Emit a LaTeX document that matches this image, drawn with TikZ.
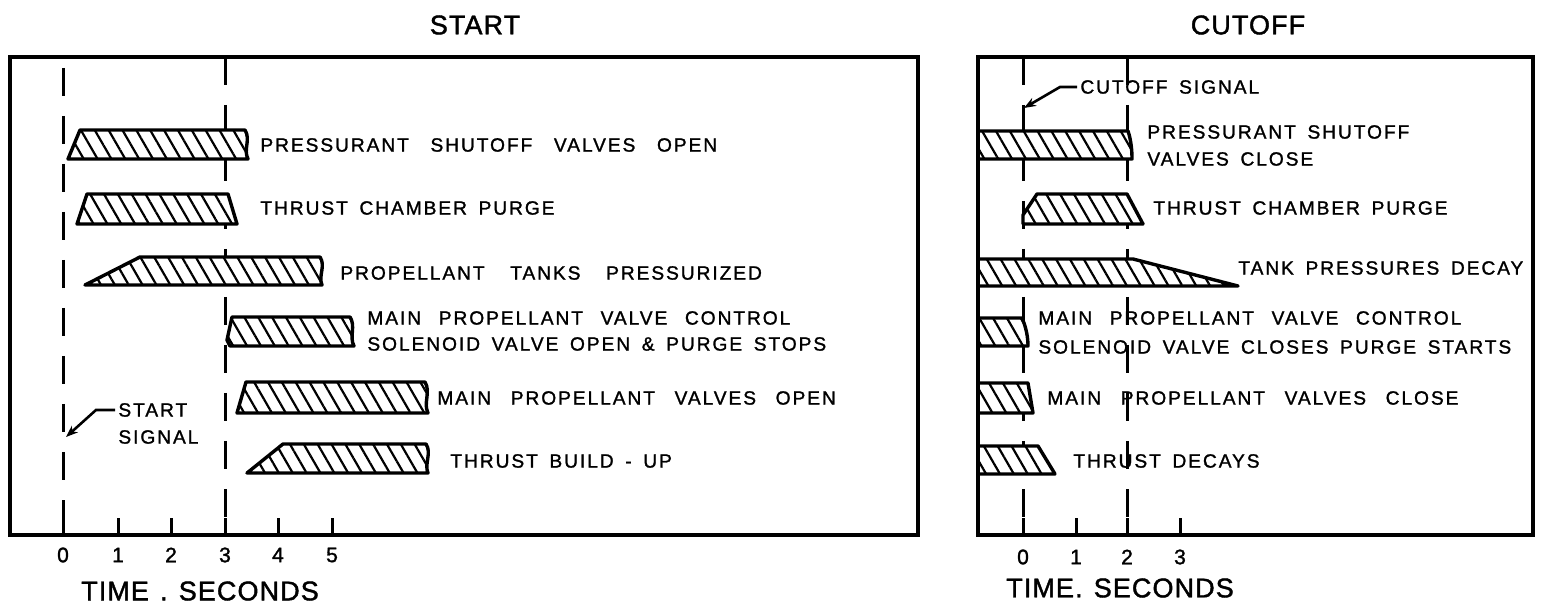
\documentclass[tikz,border=0pt]{standalone}
\usepackage{fontspec}
\setmainfont{Liberation Sans}[LetterSpace=10,WordSpace=1.6,FakeBold=1.3]
\newfontfamily\titlefont{Liberation Sans}[LetterSpace=4,WordSpace=1.3,FakeBold=1.5]
\newcommand\xs[1]{\hspace{#1pt}}
\usetikzlibrary{patterns.meta,arrows.meta}
\begin{document}
\begin{tikzpicture}[x=0.5pt,y=-0.5pt,
  frame/.style={line width=1.7pt},
  bar/.style={line width=1.7pt, line join=round, preaction={fill=white},
    pattern={Lines[angle=-60,distance=6pt,line width=1.1pt]}},
  guide/.style={line width=1.5pt, dash pattern=on 14pt off 10pt},
  tickmark/.style={line width=1.5pt},
  lbl/.style={font=\fontsize{9.6}{13.5}\selectfont, inner sep=0pt, anchor=west},
  num/.style={font=\titlefont\fontsize{10.5}{12}\selectfont, inner sep=0pt},
  big/.style={font=\titlefont\fontsize{13.5}{16}\selectfont, inner sep=0pt},
  lead/.style={line width=1.3pt, -{Stealth[length=6pt,width=4.5pt]}}
]
\useasboundingbox (0,0) rectangle (1547,614);

% ---------- titles ----------
\node[big] (tstart) at (475,25) {START};
\node[big] (tcut) at (1248,25) {CUTOFF};

% ---------- guide lines ----------
\draw[guide] (63,68) -- (63,535);
\draw[guide] (225,57) -- (225,535);
\draw[guide] (1023,57) -- (1023,535);
\draw[guide] (1127,57) -- (1127,535);

% ---------- START panel bars ----------
\draw[bar] (68,159) -- (80,130) -- (245,130) .. controls (251,140) and (243,149) .. (248,159) -- cycle;
\draw[bar] (77,224) -- (87,194) -- (228,194) -- (237,224) -- cycle;
\draw[bar] (85,285) -- (140,257) -- (320,257) .. controls (326,266) and (318,276) .. (322,285) -- cycle;
\draw[bar] (232,317) -- (350,317) .. controls (356,326) and (349,337) .. (354,346) -- (230,346) -- (227,340) -- cycle;
\draw[bar] (237,413) -- (246,382) -- (425,382) .. controls (431,392) and (423,403) .. (428,413) -- cycle;
\draw[bar] (247,473) -- (283,444) -- (426,444) .. controls (432,453) and (424,464) .. (428,473) -- cycle;

% ---------- CUTOFF panel bars ----------
\draw[bar] (978,131) -- (1128,131) .. controls (1131,140) and (1132,150) .. (1132,159) -- (978,159) -- cycle;
\draw[bar] (1023,224) -- (1023,215) -- (1037,194) -- (1127,194) -- (1143,224) -- cycle;
\draw[bar] (978,259) -- (1133,259) -- (1238,286) -- (978,286) -- cycle;
\draw[bar] (978,318) -- (1022,318) .. controls (1026,327) and (1028,337) .. (1028,346) -- (978,346) -- cycle;
\draw[bar] (978,383) -- (1028,383) -- (1033,413) -- (978,413) -- cycle;
\draw[bar] (978,446) -- (1038,446) -- (1055,474) -- (978,474) -- cycle;

% ---------- frames ----------
\draw[frame] (10,57) rectangle (918,535);
\draw[frame] (978,57) rectangle (1533,535);

% ---------- ticks ----------
\foreach \x in {63,118,171,225,278,332} \draw[tickmark] (\x,535) -- (\x,518);
\foreach \x in {1023,1076,1127,1180} \draw[tickmark] (\x,535) -- (\x,518);
\foreach \x/\t [count=\i] in {63/0,118/1,171/2,225/3,278/4,332/5}
  \node[num] (ls\i) at (\x,555) {\t};
\foreach \x/\t [count=\i] in {1023/0,1076/1,1127/2,1180/3}
  \node[num] (rs\i) at (\x,557) {\t};
\node[big] (ltime) at (200,591) {TIME . SECONDS};
\node[big] (rtime) at (1120,588) {TIME. SECONDS};

% ---------- START labels ----------
\node[lbl] (l1) at (260,145) {PRESSURANT \xs5SHUTOFF \xs5VALVES \xs5OPEN};
\node[lbl] (l2) at (260,208) {THRUST CHAMBER PURGE};
\node[lbl] (l3) at (340,273) {PROPELLANT \xs7TANKS \xs7PRESSURIZED};
\node[lbl] (l4a) at (367,318) {MAIN \xs3PROPELLANT \xs3VALVE \xs3CONTROL};
\node[lbl] (l4b) at (367,344) {SOLENOID VALVE OPEN \& PURGE STOPS};
\node[lbl] (l5) at (437,398) {MAIN \xs4PROPELLANT \xs4VALVES \xs4OPEN};
\node[lbl] (l6) at (450,461) {THRUST BUILD - UP};
\node[lbl] (st1) at (118,410) {START};
\node[lbl] (st2) at (118,437) {SIGNAL};
\coordinate (ss) at (66,437);
\draw[lead] ([xshift=-1.5pt]st1.west) -- ++(-19,0) -- (ss);

% ---------- CUTOFF labels ----------
\node[lbl] (cs) at (1080,87) {CUTOFF SIGNAL};
\coordinate (cst) at (1024,108);
\draw[lead] ([xshift=-1.5pt]cs.west) -- ++(-17,0) -- (cst);
\node[lbl] (r1a) at (1147,132) {PRESSURANT SHUTOFF};
\node[lbl] (r1b) at (1147,159) {VALVES CLOSE};
\node[lbl] (r2) at (1153,208) {THRUST CHAMBER PURGE};
\node[lbl] (r3) at (1238,268) {TANK PRESSURES DECAY};
\node[lbl] (r4a) at (1038,318) {MAIN \xs3PROPELLANT \xs3VALVE \xs3CONTROL};
\node[lbl] (r4b) at (1038,347) {SOLENOID VALVE CLOSES PURGE STARTS};
\node[lbl] (r5) at (1047,398) {MAIN \xs4PROPELLANT \xs4VALVES \xs4CLOSE};
\node[lbl] (r6) at (1073,461) {THRUST DECAYS};
\end{tikzpicture}
\end{document}
